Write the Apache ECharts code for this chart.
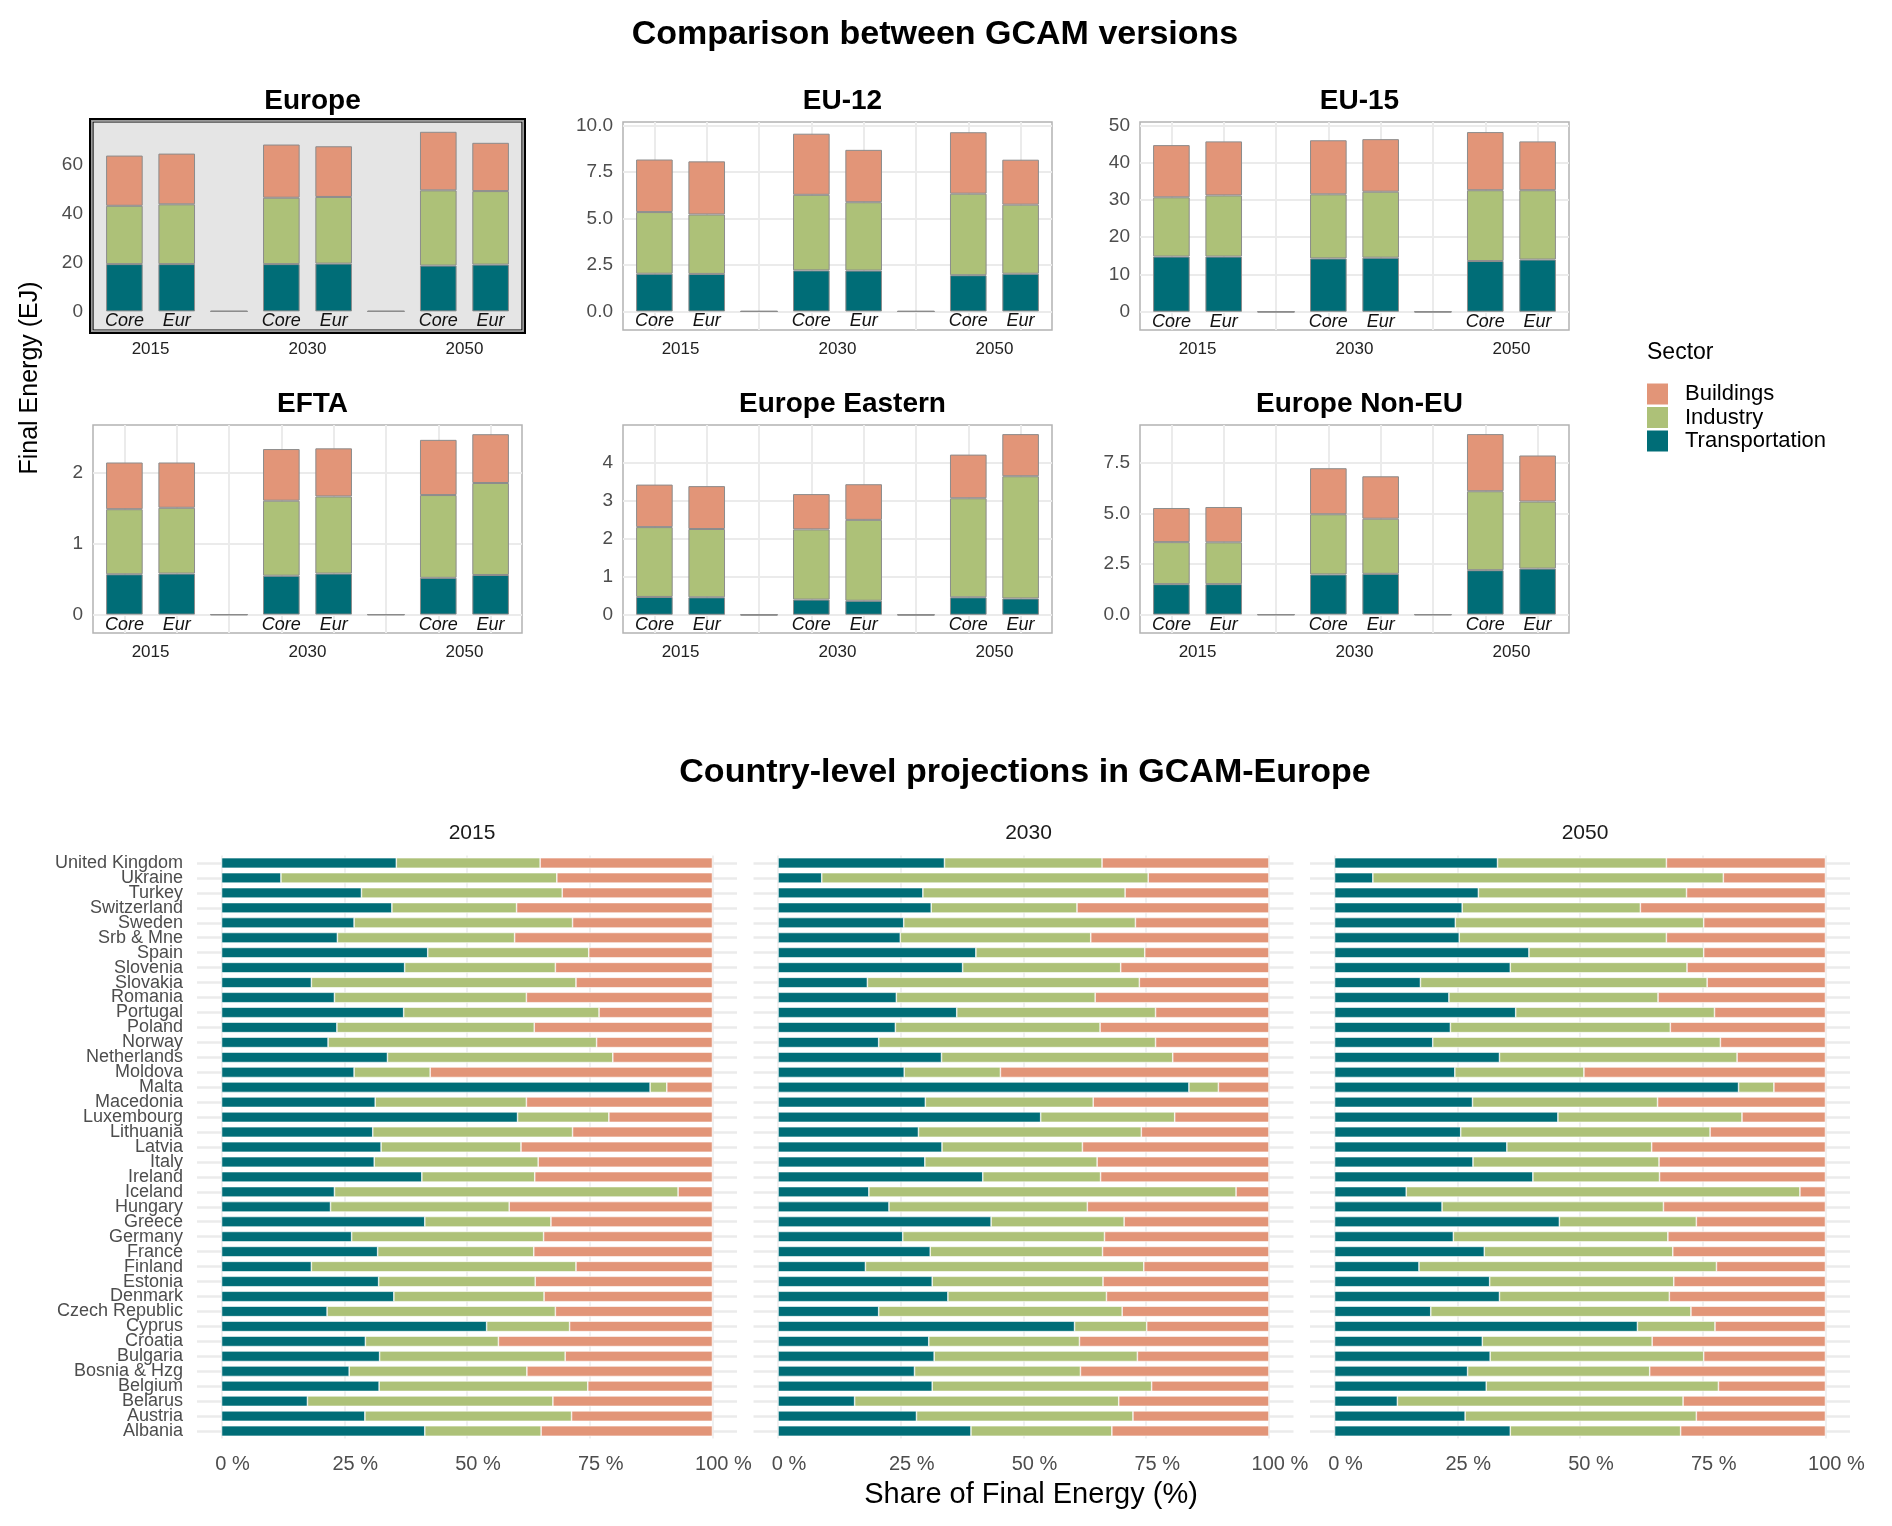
<!DOCTYPE html>
<html>
<head>
<meta charset="utf-8">
<script src="https://cdn.jsdelivr.net/npm/echarts@6/dist/echarts.min.js"></script>
<style>
html, body { margin: 0; padding: 0; background: #fff; }
#main { width: 1892px; height: 1526px; }
</style>
</head>
<body>
<div id="main"></div>
<script>
// ---- data ----
var sectors = ['Transportation', 'Industry', 'Buildings'];
var sectorColors = ['#006d77', '#adc178', '#e29578'];
var legendOrder = ['Buildings', 'Industry', 'Transportation'];

// top panels: 8 slots, 3rd and 6th are empty spacers between years
var versionSlots = ['Core', 'Eur', '', 'Core', 'Eur', '', 'Core', 'Eur'];
var years = ['2015', '2030', '2050'];
var regions = ['Europe', 'EU-12', 'EU-15', 'EFTA', 'Europe Eastern', 'Europe Non-EU'];

var regionTransport = [
  [19.3, 19.3, 0, 19.3, 19.5, 0, 18.7, 19.1],
  [2.03, 2.02, 0, 2.21, 2.20, 0, 1.95, 2.03],
  [14.8, 14.8, 0, 14.3, 14.5, 0, 13.6, 14.0],
  [0.57, 0.58, 0, 0.55, 0.58, 0, 0.52, 0.56],
  [0.47, 0.46, 0, 0.40, 0.37, 0, 0.46, 0.43],
  [1.51, 1.51, 0, 1.99, 2.02, 0, 2.20, 2.28]
];
var regionIndustry = [
  [23.8, 24.4, 0, 27.1, 27.2, 0, 30.7, 30.0],
  [3.32, 3.20, 0, 4.07, 3.68, 0, 4.39, 3.72],
  [15.9, 16.4, 0, 17.2, 17.7, 0, 19.0, 18.6],
  [0.92, 0.93, 0, 1.06, 1.09, 0, 1.17, 1.30],
  [1.84, 1.80, 0, 1.85, 2.13, 0, 2.61, 3.22],
  [2.08, 2.07, 0, 2.98, 2.73, 0, 3.91, 3.32]
];
var regionBuildings = [
  [20.5, 20.7, 0, 21.7, 20.7, 0, 23.9, 19.7],
  [2.83, 2.86, 0, 3.29, 2.82, 0, 3.31, 2.42],
  [14.0, 14.5, 0, 14.5, 14.1, 0, 15.6, 13.1],
  [0.66, 0.64, 0, 0.73, 0.68, 0, 0.78, 0.69],
  [1.12, 1.13, 0, 0.93, 0.94, 0, 1.15, 1.11],
  [1.69, 1.75, 0, 2.28, 2.10, 0, 2.83, 2.28]
];
var regionTicks = [
  [0, 20, 40, 60],
  [0, 2.5, 5, 7.5, 10],
  [0, 10, 20, 30, 40, 50],
  [0, 1, 2],
  [0, 1, 2, 3, 4],
  [0, 2.5, 5, 7.5]
];
var regionTickDecimals = [0, 1, 0, 0, 0, 1];
var regionRange = [[-7.6, 77.3], [-1.0, 10.2], [-4.9, 50.9], [-0.26, 2.68], [-0.48, 5.0], [-0.91, 9.39]];

// bottom panels: shares of final energy (%)
var countries = ['United Kingdom', 'Ukraine', 'Turkey', 'Switzerland', 'Sweden', 'Srb & Mne', 'Spain',
  'Slovenia', 'Slovakia', 'Romania', 'Portugal', 'Poland', 'Norway', 'Netherlands', 'Moldova', 'Malta',
  'Macedonia', 'Luxembourg', 'Lithuania', 'Latvia', 'Italy', 'Ireland', 'Iceland', 'Hungary', 'Greece',
  'Germany', 'France', 'Finland', 'Estonia', 'Denmark', 'Czech Republic', 'Cyprus', 'Croatia', 'Bulgaria',
  'Bosnia & Hzg', 'Belgium', 'Belarus', 'Austria', 'Albania'];

var trans2015 = [35.6, 12.1, 28.5, 34.7, 27.0, 23.6, 42.0, 37.3, 18.3, 23.0, 37.1, 23.5, 21.7, 33.8, 27.0, 87.3, 31.3, 60.3, 30.8, 32.5, 31.1, 40.8, 23.0, 22.2, 41.4, 26.5, 31.8, 18.3, 32.0, 35.1, 21.5, 54.0, 29.3, 32.2, 26.0, 32.1, 17.5, 29.2, 41.4];
var ind2015 = [29.3, 56.2, 40.9, 25.4, 44.5, 36.1, 32.8, 30.7, 53.9, 39.1, 39.8, 40.2, 54.7, 45.9, 15.5, 3.4, 30.8, 18.6, 40.7, 28.5, 33.4, 23.0, 70.0, 36.4, 25.7, 39.1, 31.8, 53.9, 31.9, 30.6, 46.5, 16.9, 27.1, 37.8, 36.2, 42.5, 50.0, 42.1, 23.7];
var bld2015 = [35.1, 31.7, 30.6, 39.9, 28.5, 40.3, 25.2, 32.0, 27.8, 37.9, 23.1, 36.3, 23.6, 20.3, 57.5, 9.3, 37.9, 21.1, 28.5, 39.0, 35.5, 36.2, 7.0, 41.4, 32.9, 34.4, 36.4, 27.8, 36.1, 34.3, 32.0, 29.1, 43.6, 30.0, 37.8, 25.4, 32.5, 28.7, 34.9];

var trans2030 = [33.9, 8.9, 29.5, 31.2, 25.6, 24.9, 40.3, 37.6, 18.2, 24.1, 36.4, 23.9, 20.5, 33.3, 25.7, 83.7, 30.0, 53.5, 28.6, 33.4, 29.9, 41.7, 18.5, 22.6, 43.4, 25.4, 31.0, 17.8, 31.4, 34.6, 20.5, 60.4, 30.7, 31.8, 27.8, 31.4, 15.6, 28.2, 39.3];
var ind2030 = [32.1, 66.5, 41.2, 29.7, 47.2, 38.8, 34.4, 32.2, 55.4, 40.5, 40.5, 41.7, 56.4, 47.1, 19.6, 6.0, 34.2, 27.3, 45.4, 28.6, 35.1, 24.0, 74.8, 40.4, 27.1, 41.1, 35.1, 56.7, 34.8, 32.3, 49.6, 14.7, 30.7, 41.4, 33.8, 44.7, 53.8, 44.1, 28.7];
var bld2030 = [34.0, 24.6, 29.3, 39.1, 27.2, 36.3, 25.3, 30.2, 26.4, 35.4, 23.1, 34.4, 23.1, 19.6, 54.7, 10.3, 35.8, 19.2, 26.0, 38.0, 35.0, 34.3, 6.7, 37.0, 29.5, 33.5, 33.9, 25.5, 33.8, 33.1, 29.9, 24.9, 38.6, 26.8, 38.4, 23.9, 30.6, 27.7, 32.0];

var trans2050 = [33.2, 7.8, 29.3, 26.0, 24.6, 25.4, 39.6, 35.8, 17.5, 23.3, 36.9, 23.6, 20.0, 33.6, 24.5, 82.3, 28.1, 45.5, 25.7, 35.1, 28.2, 40.4, 14.6, 21.9, 45.8, 24.2, 30.5, 17.2, 31.6, 33.6, 19.6, 61.7, 30.1, 31.7, 27.1, 30.9, 12.8, 26.6, 35.8];
var ind2050 = [34.4, 71.4, 42.4, 36.3, 50.6, 42.2, 35.6, 36.0, 58.4, 42.6, 40.5, 44.8, 58.6, 48.4, 26.3, 7.2, 37.7, 37.5, 50.8, 29.5, 37.9, 25.8, 80.2, 45.1, 27.9, 43.7, 38.4, 60.6, 37.5, 34.6, 53.0, 15.8, 34.6, 43.5, 37.1, 47.3, 58.2, 47.1, 34.7];
var bld2050 = [32.4, 20.8, 28.3, 37.7, 24.8, 32.4, 24.8, 28.2, 24.1, 34.1, 22.6, 31.6, 21.4, 18.0, 49.2, 10.5, 34.2, 17.0, 23.5, 35.4, 33.9, 33.8, 5.2, 33.0, 26.3, 32.1, 31.1, 22.2, 30.9, 31.8, 27.4, 22.5, 35.3, 24.8, 35.8, 21.8, 29.0, 26.3, 29.5];

var shareTicks = [0, 25, 50, 75, 100];
var yearShares = [
  [trans2015, ind2015, bld2015],
  [trans2030, ind2030, bld2030],
  [trans2050, ind2050, bld2050]
];

// ---- layout ----
var fontFamily = '"Liberation Sans", Arial, sans-serif';
var colLeft = [93, 623, 1140], rowTop = [122, 425], boxW = 429, boxH = 208;
var botLeft = [197, 753.5, 1310], botTop = 855.5, botW = 540, botH = 583;

var slotX = versionSlots.map(function (s, i) { return i + 1; });
var yearX = years.map(function (y, i) { return 1.5 + 3 * i; });
var countryIdx = countries.map(function (c, i) { return i; });
var unit = boxW / 8.2;   // one slot, with 0.6 slot padding at each side

var grids = [], xAxes = [], yAxes = [], series = [];
var titles = [
  {text: 'Comparison between GCAM versions', left: 930, top: 13, textAlign: 'center',
   textStyle: {fontSize: 34, fontWeight: 'bold', color: '#000', fontFamily: fontFamily}},
  {text: 'Country-level projections in GCAM-Europe', left: 1020, top: 751, textAlign: 'center',
   textStyle: {fontSize: 34, fontWeight: 'bold', color: '#000', fontFamily: fontFamily}},
  {text: 'Sector', left: 1642, top: 336,
   textStyle: {fontSize: 23, fontWeight: 'normal', color: '#000', fontFamily: fontFamily}},
  {text: 'Share of Final Energy (%)', left: 1026, top: 1475, textAlign: 'center',
   textStyle: {fontSize: 29, fontWeight: 'normal', color: '#000', fontFamily: fontFamily}}
];

regions.forEach(function (r, k) {
  var left = colLeft[k % 3], top = rowTop[Math.floor(k / 3)];
  var isEurope = k === 0;
  var dec = regionTickDecimals[k];
  titles.push({text: r, left: left + boxW / 2, top: top - 40, textAlign: 'center',
    textStyle: {fontSize: 28, fontWeight: 'bold', color: '#000', fontFamily: fontFamily}});

  // panel frame, grid lines and tick labels
  var ga = grids.length;
  grids.push({left: left, top: top, width: boxW, height: boxH, show: true,
    backgroundColor: isEurope ? '#e5e5e5' : '#fff',
    borderColor: isEurope ? '#000' : '#b3b3b3', borderWidth: isEurope ? 1.2 : 1.5});
  xAxes.push({gridIndex: ga, type: 'value', min: 0.4, max: 8.6,
    axisLine: {show: false}, axisTick: {show: false, customValues: slotX},
    splitLine: {show: !isEurope, lineStyle: {color: '#ebebeb', width: 2}},
    axisLabel: {customValues: yearX, margin: 11, fontSize: 17, color: '#222', fontFamily: fontFamily,
      formatter: function (v) { return years[Math.round((v - 1.5) / 3)]; }}});
  yAxes.push({gridIndex: ga, type: 'value', min: regionRange[k][0], max: regionRange[k][1],
    axisLine: {show: false}, axisTick: {show: false, customValues: regionTicks[k]},
    splitLine: {show: !isEurope, lineStyle: {color: '#ebebeb', width: 2}},
    axisLabel: {customValues: regionTicks[k], margin: 10, fontSize: 19, color: '#4d4d4d', fontFamily: fontFamily,
      formatter: function (v) { return v.toFixed(dec); }}});

  // bars on a category axis laid over the panel
  var gb = grids.length;
  grids.push({left: left + 0.1 * unit, top: top, width: 8 * unit, height: boxH});
  var xb = xAxes.length, yb = yAxes.length;
  xAxes.push({gridIndex: gb, type: 'category', data: slotX, show: false});
  yAxes.push({gridIndex: gb, type: 'value', min: regionRange[k][0], max: regionRange[k][1], show: false,
    splitLine: {show: false}});
  var vals = [regionTransport[k], regionIndustry[k], regionBuildings[k]];
  sectors.forEach(function (s, si) {
    series.push({
      type: 'bar', name: s, xAxisIndex: xb, yAxisIndex: yb, stack: 'region' + k,
      barWidth: '70%', silent: true,
      data: vals[si],
      itemStyle: {color: sectorColors[si], borderColor: '#8c8c8c', borderWidth: 1},
      label: si === 0 ? {show: true, position: 'bottom', distance: 1,
        formatter: function (p) { return versionSlots[p.dataIndex]; },
        fontStyle: 'italic', fontSize: 18, color: '#111', fontFamily: fontFamily} : {show: false}
    });
  });
});

years.forEach(function (y, j) {
  var g = grids.length;
  titles.push({text: y, left: botLeft[j] + botW / 2, top: 818, textAlign: 'center',
    textStyle: {fontSize: 21, fontWeight: 'normal', color: '#1a1a1a', fontFamily: fontFamily}});
  grids.push({left: botLeft[j], top: botTop, width: botW, height: botH});
  var xi = xAxes.length;
  xAxes.push({gridIndex: g, type: 'value', min: -5, max: 105,
    axisLine: {show: false}, axisTick: {show: false, customValues: shareTicks},
    splitLine: {show: true, lineStyle: {color: '#ebebeb', width: 1.5}},
    axisLabel: {customValues: shareTicks, margin: 16, fontSize: 20, color: '#4d4d4d', fontFamily: fontFamily,
      padding: [0, 0, 0, 22], formatter: function (v) { return v + ' %'; }}});
  var yi = yAxes.length;
  yAxes.push({gridIndex: g, type: 'category', data: countries, inverse: true,
    axisLine: {show: false}, axisTick: {show: false}, splitLine: {show: false},
    axisLabel: {show: j === 0, interval: 0, fontSize: 18, color: '#4d4d4d', margin: 14, fontFamily: fontFamily}});
  yAxes.push({gridIndex: g, type: 'value', min: -0.5, max: countries.length - 0.5, inverse: true,
    axisLine: {show: false}, axisTick: {show: false, customValues: countryIdx}, axisLabel: {show: false},
    splitLine: {show: true, lineStyle: {color: '#ebebeb', width: 2.5}}});
  sectors.forEach(function (s, si) {
    series.push({
      type: 'bar', name: s, xAxisIndex: xi, yAxisIndex: yi, stack: 'year' + j,
      barWidth: '70%', silent: true,
      data: yearShares[j][si],
      itemStyle: {color: sectorColors[si], borderColor: '#ffffff', borderWidth: 0.6}
    });
  });
});

var eu = {x: colLeft[0], y: rowTop[0]};
var option = {
  animation: false,
  backgroundColor: '#fff',
  textStyle: {fontFamily: fontFamily},
  title: titles,
  legend: {
    data: legendOrder, orient: 'vertical', left: 1642, top: 378,
    icon: 'rect', itemWidth: 21, itemHeight: 21, itemGap: 1.5, selectedMode: false,
    itemStyle: {borderWidth: 0},
    textStyle: {fontSize: 22, color: '#000', padding: [0, 0, 0, 12], fontFamily: fontFamily}
  },
  grid: grids,
  xAxis: xAxes,
  yAxis: yAxes,
  series: series,
  graphic: [
    {type: 'rect', z: 100, silent: true,
     shape: {x: eu.x - 1.5, y: eu.y - 1.5, width: boxW + 3, height: boxH + 3},
     style: {fill: 'none', stroke: '#9a9a9a', lineWidth: 1.5}},
    {type: 'rect', z: 100, silent: true,
     shape: {x: eu.x - 3, y: eu.y - 3, width: boxW + 6, height: boxH + 6},
     style: {fill: 'none', stroke: '#000', lineWidth: 2}},
    {type: 'text', z: 100, silent: true, x: 30, y: 378, rotation: Math.PI / 2,
     style: {text: 'Final Energy (EJ)', fontSize: 25, fill: '#000', align: 'center',
       verticalAlign: 'middle', fontFamily: fontFamily}}
  ]
};

var chart = echarts.init(document.getElementById('main'));
chart.setOption(option);
</script>
</body>
</html>
